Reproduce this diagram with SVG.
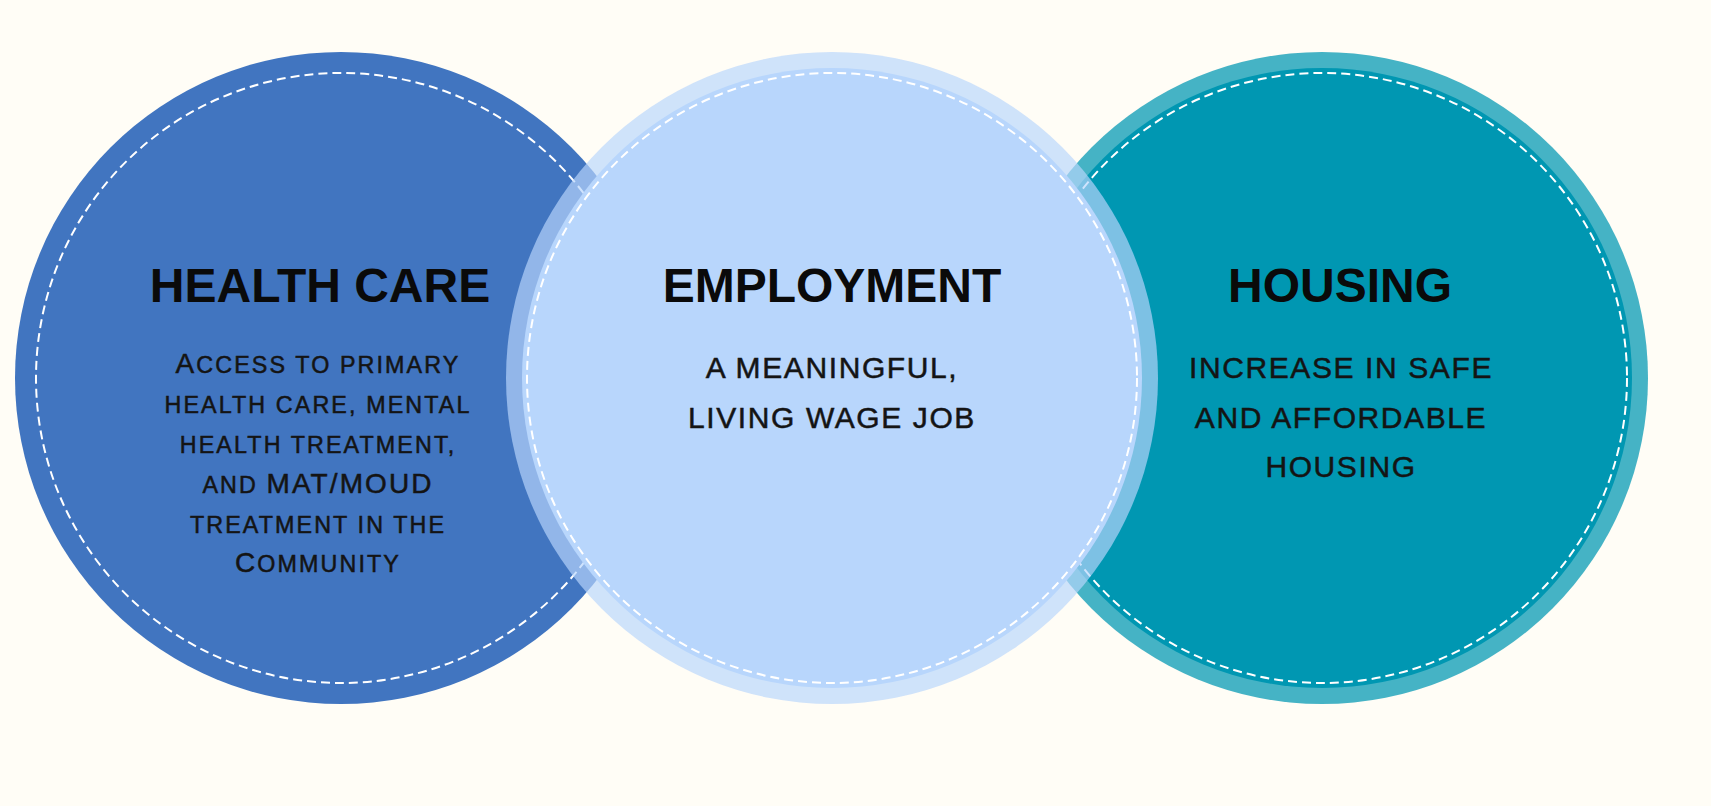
<svg xmlns="http://www.w3.org/2000/svg" width="1711" height="806" viewBox="0 0 1711 806">
  <style>
    .title { font-family: "Liberation Sans", Arial, sans-serif; font-weight: bold; font-size: 48px; fill: #0a0a0a; text-anchor: middle; }
    .body { font-family: "Liberation Sans", Arial, sans-serif; font-size: 30px; letter-spacing: 1.6px; fill: #141414; stroke: #141414; stroke-width: 0.5; text-anchor: middle; }
    .sc { font-family: "Liberation Sans", Arial, sans-serif; font-size: 23.3px; letter-spacing: 2.1px; fill: #141414; stroke: #141414; stroke-width: 0.5; text-anchor: middle; }
    .cap { font-size: 28px; }
    .dash { fill: none; stroke: #ffffff; stroke-width: 2; stroke-dasharray: 9 5; }
  </style>
  <rect x="0" y="0" width="1711" height="806" fill="#fffdf6"/>

  <g id="node-health-care">
    <circle cx="341" cy="378" r="326" fill="#4175c0"/>
    <circle class="dash" cx="341" cy="378" r="305"/>
    <text class="title" x="320" y="302">HEALTH CARE</text>
    <text class="sc" x="318" y="373"><tspan class="cap">A</tspan>CCESS TO PRIMARY</text>
    <text class="sc" x="318" y="413">HEALTH CARE, MENTAL</text>
    <text class="sc" x="318" y="453">HEALTH TREATMENT,</text>
    <text class="sc" x="318" y="493">AND <tspan class="cap">MAT/MOUD</tspan></text>
    <text class="sc" x="318" y="533">TREATMENT IN THE</text>
    <text class="sc" x="318" y="572"><tspan class="cap">C</tspan>OMMUNITY</text>
  </g>

  <g id="node-housing">
    <circle cx="1322" cy="378" r="326" fill="#0097b2" fill-opacity="0.73"/>
    <circle cx="1322" cy="378" r="310" fill="#0097b2"/>
    <circle class="dash" cx="1322" cy="378" r="305"/>
    <text class="title" x="1340" y="302">HOUSING</text>
    <text class="body" x="1341" y="378">INCREASE IN SAFE</text>
    <text class="body" x="1341" y="428">AND AFFORDABLE</text>
    <text class="body" x="1341" y="477">HOUSING</text>
  </g>

  <g id="node-employment">
    <circle cx="832" cy="378" r="326" fill="#b8d6fc" fill-opacity="0.68"/>
    <circle cx="832" cy="378" r="310" fill="#b8d6fc"/>
    <circle class="dash" cx="832" cy="378" r="305"/>
    <text class="title" x="832" y="302">EMPLOYMENT</text>
    <text class="body" x="832" y="378">A MEANINGFUL,</text>
    <text class="body" x="832" y="428">LIVING WAGE JOB</text>
  </g>

  <g id="connectors"></g>
</svg>
